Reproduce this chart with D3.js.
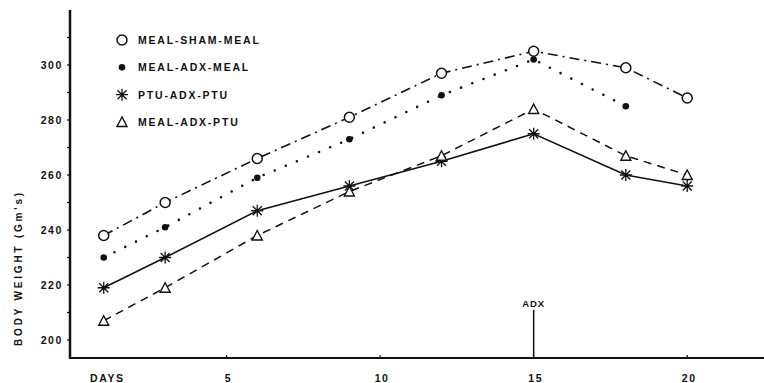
<!DOCTYPE html>
<html>
<head>
<meta charset="utf-8">
<script src="https://cdn.jsdelivr.net/npm/d3@7"></script>
<style>
  body { margin: 0; background: #fff; }
  text { font-family: "Liberation Sans", Arial, sans-serif; font-weight: bold; fill: #111; }
</style>
</head>
<body>
<script>
// chart data
var days = [1, 3, 6, 9, 12, 15, 18, 20];
var shamMeal = [238, 250, 266, 281, 297, 305, 299, 288];
var adxMeal = [230, 241, 259, 273, 289, 302, 285];   // no point at day 20
var ptuAdxPtu = [219, 230, 247, 256, 265, 275, 260, 256];
var mealAdxPtu = [207, 219, 238, 254, 267, 284, 267, 260];
var seriesNames = ['MEAL-SHAM-MEAL', 'MEAL-ADX-MEAL', 'PTU-ADX-PTU', 'MEAL-ADX-PTU'];
var yTicks = [200, 220, 240, 260, 280, 300];
var yMinor = [210, 230, 250, 270, 290, 310];
var xTicks = [5, 10, 15, 20];
var adxDay = 15;

var width = 764, height = 383;
var axisX = 70, axisY = 358;

var x = d3.scaleLinear().domain([0, 22.5]).range([73, 764]);
var y = d3.scaleLinear().domain([200, 300]).range([340, 65]);

var svg = d3.select('body').append('svg').attr('width', width).attr('height', height);

// axes lines
svg.append('line').attr('x1', axisX).attr('x2', axisX).attr('y1', 10).attr('y2', axisY + 1)
  .attr('stroke', '#111').attr('stroke-width', 2.5);
svg.append('line').attr('x1', axisX - 1).attr('x2', width).attr('y1', axisY).attr('y2', axisY)
  .attr('stroke', '#111').attr('stroke-width', 2);

// y ticks
svg.selectAll('.ytick').data(yTicks.concat(yMinor)).enter().append('line')
  .attr('x1', axisX - 3).attr('x2', axisX).attr('y1', d => y(d)).attr('y2', d => y(d))
  .attr('stroke', '#111').attr('stroke-width', 1.2);
svg.selectAll('.ylab').data(yTicks).enter().append('text')
  .attr('x', 63).attr('y', d => y(d) + 4).attr('text-anchor', 'end')
  .attr('font-size', 10.5).attr('letter-spacing', 1.6).text(d => d);

// x ticks
svg.selectAll('.xtick').data(xTicks).enter().append('line')
  .attr('x1', d => x(d)).attr('x2', d => x(d)).attr('y1', axisY - 3).attr('y2', axisY)
  .attr('stroke', '#111').attr('stroke-width', 1.2);
svg.selectAll('.xlab').data(xTicks).enter().append('text')
  .attr('x', d => x(d) + 2).attr('y', 382).attr('text-anchor', 'middle')
  .attr('font-size', 10.5).attr('letter-spacing', 1.6).text(d => d);
svg.append('text').attr('x', 90).attr('y', 382).attr('font-size', 10.5)
  .attr('letter-spacing', 1.6).text('DAYS');

// axis title
svg.append('text').attr('transform', 'translate(22,268) rotate(-90)')
  .attr('text-anchor', 'middle').attr('font-size', 10).attr('letter-spacing', 2.8)
  .text("BODY WEIGHT  (Gm's)");

// ADX marker
svg.append('line').attr('x1', x(adxDay)).attr('x2', x(adxDay)).attr('y1', 310).attr('y2', axisY)
  .attr('stroke', '#111').attr('stroke-width', 1.5);
svg.append('text').attr('x', x(adxDay)).attr('y', 307).attr('text-anchor', 'middle')
  .attr('font-size', 9.5).attr('letter-spacing', 1).text('ADX');

// lines
var line = d3.line().x(d => x(d[0])).y(d => y(d[1]));
function pts(vals) { return vals.map((v, i) => [days[i], v]); }

svg.append('path').attr('d', line(pts(shamMeal))).attr('fill', 'none')
  .attr('stroke', '#111').attr('stroke-width', 1.6).attr('stroke-dasharray', '10,5,2,5');
svg.append('path').attr('d', line(pts(adxMeal))).attr('fill', 'none')
  .attr('stroke', '#111').attr('stroke-width', 2.6).attr('stroke-linecap', 'round')
  .attr('stroke-dasharray', '0,12');
svg.append('path').attr('d', line(pts(ptuAdxPtu))).attr('fill', 'none')
  .attr('stroke', '#111').attr('stroke-width', 1.6);
svg.append('path').attr('d', line(pts(mealAdxPtu))).attr('fill', 'none')
  .attr('stroke', '#111').attr('stroke-width', 1.5).attr('stroke-dasharray', '8,6');

// marker shapes
function circleOpen(g) { g.append('circle').attr('r', 5).attr('fill', '#fff').attr('stroke', '#111').attr('stroke-width', 1.5); }
function circleFilled(g) { g.append('circle').attr('r', 3.3).attr('fill', '#111'); }
function star(g) {
  g.append('path').attr('d', 'M0,-6V6M-6,0H6M-4.5,-4.5L4.5,4.5M-4.5,4.5L4.5,-4.5')
    .attr('stroke', '#111').attr('stroke-width', 1.3).attr('fill', 'none');
}
function triangle(g) {
  g.append('path').attr('d', 'M0,-5L5,4.5H-5Z').attr('fill', '#fff')
    .attr('stroke', '#111').attr('stroke-width', 1.4);
}
var shapes = [circleOpen, circleFilled, star, triangle];
var allSeries = [shamMeal, adxMeal, ptuAdxPtu, mealAdxPtu];

allSeries.forEach(function (vals, s) {
  svg.selectAll('.m' + s).data(pts(vals)).enter().append('g')
    .attr('transform', d => 'translate(' + x(d[0]) + ',' + y(d[1]) + ')')
    .each(function () { shapes[s](d3.select(this)); });
});

// legend
var legendY = d3.scalePoint().domain(seriesNames).range([40, 122]);
seriesNames.forEach(function (name, i) {
  var g = svg.append('g').attr('transform', 'translate(122,' + legendY(name) + ')');
  shapes[i](g);
  svg.append('text').attr('x', 138).attr('y', legendY(name) + 4).attr('font-size', 10.5)
    .attr('letter-spacing', 1.8).text(name);
});
</script>
</body>
</html>
